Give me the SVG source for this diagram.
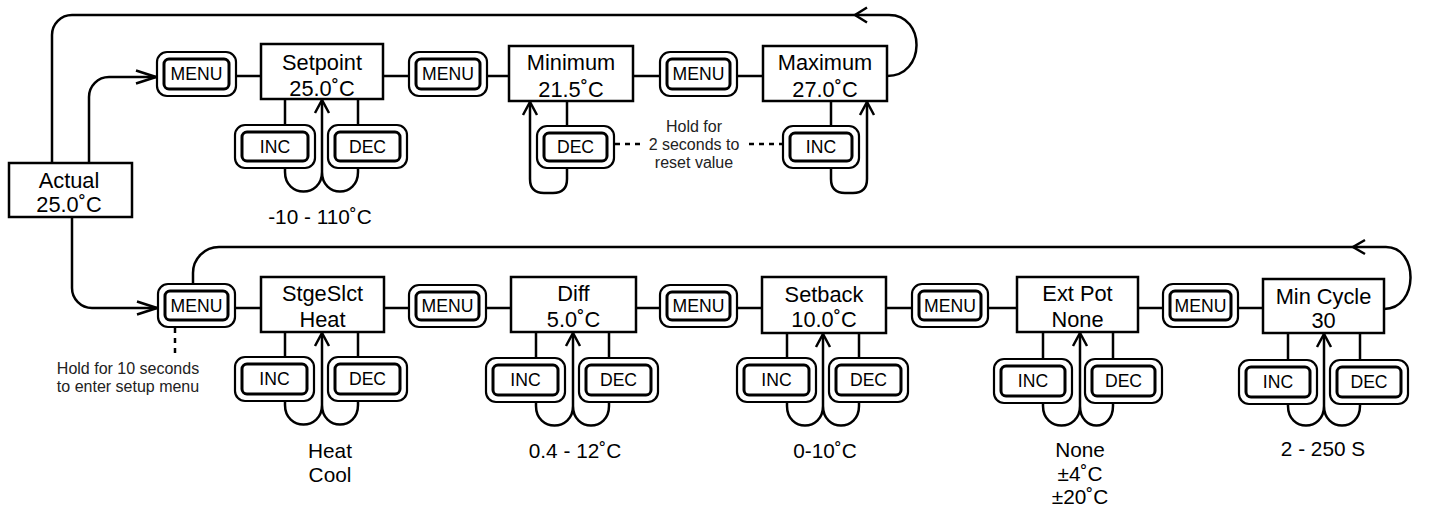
<svg xmlns="http://www.w3.org/2000/svg" width="1434" height="508" viewBox="0 0 1434 508">
<style>
.box{fill:#fff;stroke:#000;stroke-width:2.5}
.bo{fill:#fff;stroke:#000;stroke-width:2.2}
.bi{fill:none;stroke:#000;stroke-width:3}
text{font-family:"Liberation Sans",Arial,sans-serif;fill:#000;text-anchor:middle}
.t{font-size:21.8px}
.bt{font-size:17.6px}
.r{font-size:20.8px}
.s{font-size:16px;fill:#222}
.c{fill:none;stroke:#000;stroke-width:2.5}
.d{fill:none;stroke:#000;stroke-width:2.5;stroke-dasharray:5 5}
.av{marker-end:url(#arrV)}
.ah{marker-end:url(#arrH)}
</style>
<defs>
<marker id="arrV" viewBox="-16 -10 18 20" markerWidth="18" markerHeight="20" refX="0" refY="0" orient="auto" markerUnits="userSpaceOnUse">
<path d="M-13,-7 L0,0 L-13,7" fill="none" stroke="#000" stroke-width="2.5"/>
</marker>
<marker id="arrH" viewBox="-22 -9 24 18" markerWidth="24" markerHeight="18" refX="0" refY="0" orient="auto" markerUnits="userSpaceOnUse">
<path d="M-20,-6.5 L0,0 L-20,6.5" fill="none" stroke="#000" stroke-width="2.5"/>
</marker>
</defs>
<rect width="1434" height="508" fill="#fff"/>

<g id="connectors">
<path class="c ah" d="M89,163 V97 A20,20 0 0 1 109,77 H156"/>
<path class="c ah" d="M72,217 V288 A20,20 0 0 0 92,308 H157"/>
<path class="c" d="M887,76 C926,76 926,15 889,15 H72 A20,20 0 0 0 52,35 V163"/>
<path class="c" d="M867,7.5 L855,15 L867,22.5"/>
<path class="c" d="M1384,309 C1419,309 1419,247 1386,247 H219 A26,26 0 0 0 193,273 V284"/>
<path class="c" d="M1365,240 L1353,247 L1365,254"/>
<path class="c" d="M236,76 H261 M383,76 H409 M487,76 H509 M633,76 H660 M737,76 H763"/>
<path class="c" d="M235,308 H261 M384,308 H409 M486,308 H511 M636,308 H660 M737,308 H762 M886,308 H912 M988,308 H1017 M1138,308 H1163 M1238,308 H1263"/>
<path class="c" d="M285,99 V125 M358,99 V125"/>
<path class="c" d="M285,168 V172 C285,198 322,198 322,172 M358,168 V172 C358,198 322,198 322,172"/>
<path class="c av" d="M322,172 V100"/>
<path class="c" d="M567,101 V126"/>
<path class="c av" d="M567,168 V179 Q567,193 553,193 H544 Q530,193 530,179 V102"/>
<path class="c" d="M831,101 V126"/>
<path class="c av" d="M831,168 V179 Q831,193 845,193 H853 Q867,193 867,179 V102"/>
<path class="d" d="M615,144 H641 M749,144 H783"/>
<path class="d" d="M175,328 V356"/>
<path class="c" d="M285,332 V357 M358,332 V357"/>
<path class="c" d="M285,401 V405 C285,431 322,431 322,405 M358,401 V405 C358,431 322,431 322,405"/>
<path class="c av" d="M322,405 V333"/>
<path class="c" d="M536,332 V358 M609,332 V358"/>
<path class="c" d="M536,402 V406 C536,432 573,432 573,406 M609,402 V406 C609,432 573,432 573,406"/>
<path class="c av" d="M573,406 V333"/>
<path class="c" d="M787,333 V358 M859,333 V358"/>
<path class="c" d="M787,402 V406 C787,432 823,432 823,406 M859,402 V406 C859,432 823,432 823,406"/>
<path class="c av" d="M823,406 V334"/>
<path class="c" d="M1043,332 V359 M1113,332 V359"/>
<path class="c" d="M1043,403 V406 C1043,432 1080,432 1080,406 M1113,403 V406 C1113,432 1080,432 1080,406"/>
<path class="c av" d="M1080,406 V333"/>
<path class="c" d="M1288,333 V360 M1360,333 V360"/>
<path class="c" d="M1288,404 V406 C1288,432 1324,432 1324,406 M1360,404 V406 C1360,432 1324,432 1324,406"/>
<path class="c av" d="M1324,406 V334"/>
</g>

<g id="actual"><rect class="box" x="9" y="163" width="123" height="54"/><text class="t" x="69" y="188">Actual</text><text class="t" x="69" y="212">25.0˚C</text></g>
<g id="setpoint"><rect class="box" x="261" y="44" width="122" height="55"/><text class="t" x="322" y="69.5">Setpoint</text><text class="t" x="322" y="95.8">25.0˚C</text></g>
<g id="minimum"><rect class="box" x="509" y="46" width="124" height="55"/><text class="t" x="571" y="70">Minimum</text><text class="t" x="571" y="96.5">21.5˚C</text></g>
<g id="maximum"><rect class="box" x="763" y="46" width="124" height="55"/><text class="t" x="825" y="70">Maximum</text><text class="t" x="825" y="96.5">27.0˚C</text></g>
<g id="stgeslct"><rect class="box" x="261" y="277" width="123" height="55"/><text class="t" x="322.5" y="301">StgeSlct</text><text class="t" x="322.5" y="327">Heat</text></g>
<g id="diff"><rect class="box" x="511" y="277" width="125" height="55"/><text class="t" x="573.5" y="301">Diff</text><text class="t" x="573.5" y="327">5.0˚C</text></g>
<g id="setback"><rect class="box" x="762" y="277" width="124" height="56"/><text class="t" x="824" y="301.5">Setback</text><text class="t" x="824" y="327">10.0˚C</text></g>
<g id="extpot"><rect class="box" x="1017" y="277" width="121" height="55"/><text class="t" x="1077.5" y="301">Ext Pot</text><text class="t" x="1077.5" y="326.5">None</text></g>
<g id="mincycle"><rect class="box" x="1263" y="279" width="121" height="54"/><text class="t" x="1323.5" y="304">Min Cycle</text><text class="t" x="1323.5" y="328">30</text></g>

<g id="menu-t1"><rect class="bo" x="157" y="52" width="79" height="44" rx="10"/><rect class="bi" x="164" y="59" width="65" height="30" rx="5"/><text class="bt" x="196.5" y="80.3">MENU</text></g>
<g id="menu-t2"><rect class="bo" x="409" y="52" width="78" height="44" rx="10"/><rect class="bi" x="416" y="59" width="64" height="30" rx="5"/><text class="bt" x="448" y="80.3">MENU</text></g>
<g id="menu-t3"><rect class="bo" x="660" y="52" width="77" height="44" rx="10"/><rect class="bi" x="667" y="59" width="63" height="30" rx="5"/><text class="bt" x="698.5" y="80.3">MENU</text></g>
<g id="setpoint-inc"><rect class="bo" x="235" y="125" width="80" height="43" rx="10"/><rect class="bi" x="242" y="132" width="66" height="29" rx="5"/><text class="bt" x="275" y="152.8">INC</text></g>
<g id="setpoint-dec"><rect class="bo" x="328" y="125" width="79" height="43" rx="10"/><rect class="bi" x="335" y="132" width="65" height="29" rx="5"/><text class="bt" x="367.5" y="152.8">DEC</text></g>
<g id="minimum-dec"><rect class="bo" x="537" y="126" width="77" height="42" rx="10"/><rect class="bi" x="544" y="133" width="63" height="28" rx="5"/><text class="bt" x="575.5" y="153.3">DEC</text></g>
<g id="maximum-inc"><rect class="bo" x="783" y="126" width="76" height="42" rx="10"/><rect class="bi" x="790" y="133" width="62" height="28" rx="5"/><text class="bt" x="821" y="153.3">INC</text></g>

<g id="menu-b1"><rect class="bo" x="158" y="284" width="77" height="43" rx="10"/><rect class="bi" x="165" y="291" width="63" height="29" rx="5"/><text class="bt" x="196.5" y="311.8">MENU</text></g>
<g id="menu-b2"><rect class="bo" x="409" y="285" width="77" height="42" rx="10"/><rect class="bi" x="416" y="292" width="63" height="28" rx="5"/><text class="bt" x="447.5" y="312.3">MENU</text></g>
<g id="menu-b3"><rect class="bo" x="660" y="285" width="77" height="42" rx="10"/><rect class="bi" x="667" y="292" width="63" height="28" rx="5"/><text class="bt" x="698.5" y="312.3">MENU</text></g>
<g id="menu-b4"><rect class="bo" x="912" y="284" width="76" height="43" rx="10"/><rect class="bi" x="919" y="291" width="62" height="29" rx="5"/><text class="bt" x="950" y="311.8">MENU</text></g>
<g id="menu-b5"><rect class="bo" x="1163" y="284" width="75" height="43" rx="10"/><rect class="bi" x="1170" y="291" width="61" height="29" rx="5"/><text class="bt" x="1200.5" y="311.8">MENU</text></g>
<g id="stgeslct-inc"><rect class="bo" x="235" y="357" width="79" height="44" rx="10"/><rect class="bi" x="242" y="364" width="65" height="30" rx="5"/><text class="bt" x="274.5" y="385.3">INC</text></g>
<g id="stgeslct-dec"><rect class="bo" x="328" y="357" width="79" height="44" rx="10"/><rect class="bi" x="335" y="364" width="65" height="30" rx="5"/><text class="bt" x="367.5" y="385.3">DEC</text></g>
<g id="diff-inc"><rect class="bo" x="486" y="358" width="79" height="44" rx="10"/><rect class="bi" x="493" y="365" width="65" height="30" rx="5"/><text class="bt" x="525.5" y="386.3">INC</text></g>
<g id="diff-dec"><rect class="bo" x="579" y="358" width="79" height="44" rx="10"/><rect class="bi" x="586" y="365" width="65" height="30" rx="5"/><text class="bt" x="618.5" y="386.3">DEC</text></g>
<g id="setback-inc"><rect class="bo" x="737" y="358" width="79" height="44" rx="10"/><rect class="bi" x="744" y="365" width="65" height="30" rx="5"/><text class="bt" x="776.5" y="386.3">INC</text></g>
<g id="setback-dec"><rect class="bo" x="829" y="358" width="79" height="44" rx="10"/><rect class="bi" x="836" y="365" width="65" height="30" rx="5"/><text class="bt" x="868.5" y="386.3">DEC</text></g>
<g id="extpot-inc"><rect class="bo" x="994" y="359" width="78" height="44" rx="10"/><rect class="bi" x="1001" y="366" width="64" height="30" rx="5"/><text class="bt" x="1033" y="387.3">INC</text></g>
<g id="extpot-dec"><rect class="bo" x="1085" y="359" width="77" height="44" rx="10"/><rect class="bi" x="1092" y="366" width="63" height="30" rx="5"/><text class="bt" x="1123.5" y="387.3">DEC</text></g>
<g id="mincycle-inc"><rect class="bo" x="1239" y="360" width="78" height="44" rx="10"/><rect class="bi" x="1246" y="367" width="64" height="30" rx="5"/><text class="bt" x="1278" y="388.3">INC</text></g>
<g id="mincycle-dec"><rect class="bo" x="1330" y="360" width="78" height="44" rx="10"/><rect class="bi" x="1337" y="367" width="64" height="30" rx="5"/><text class="bt" x="1369" y="388.3">DEC</text></g>

<g id="range-setpoint"><text class="r" x="320" y="224">-10 - 110˚C</text></g>
<g id="hold-reset"><text class="s" x="694" y="131.7">Hold for</text><text class="s" x="694" y="149.5">2 seconds to</text><text class="s" x="694" y="167.7">reset value</text></g>
<g id="hold-setup"><text class="s" x="128" y="374">Hold for 10 seconds</text><text class="s" x="128" y="392.3">to enter setup menu</text></g>
<g id="range-stgeslct"><text class="r" x="330" y="457.7">Heat</text><text class="r" x="330" y="481.7">Cool</text></g>
<g id="range-diff"><text class="r" x="575" y="457.7">0.4 - 12˚C</text></g>
<g id="range-setback"><text class="r" x="825" y="457.7">0-10˚C</text></g>
<g id="range-extpot"><text class="r" x="1080" y="456.7">None</text><text class="r" x="1080" y="480.7">±4˚C</text><text class="r" x="1080" y="504">±20˚C</text></g>
<g id="range-mincycle"><text class="r" x="1323" y="455.7">2 - 250 S</text></g>
</svg>
